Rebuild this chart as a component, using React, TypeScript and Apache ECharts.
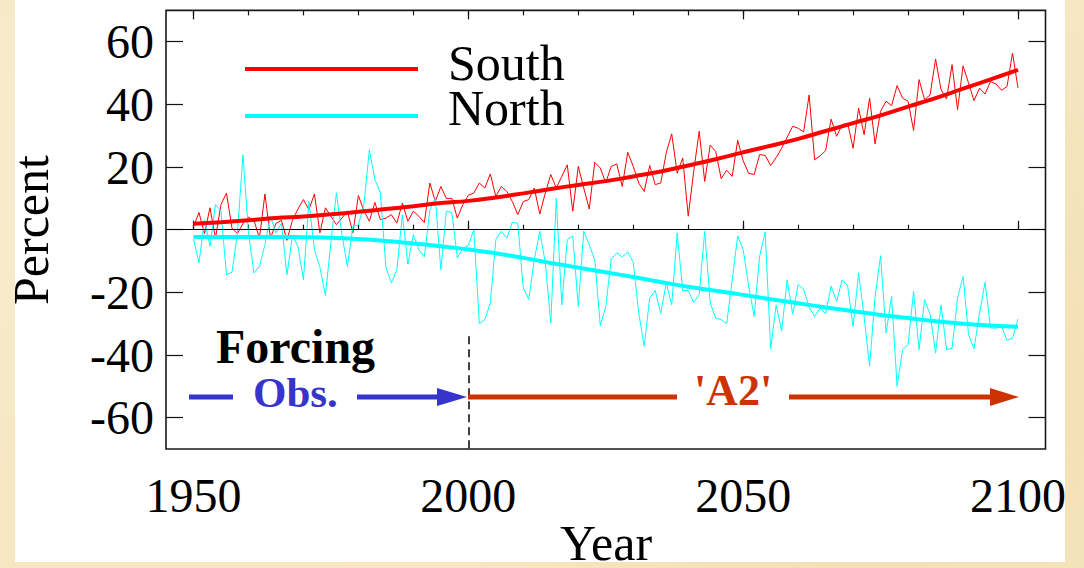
import React, { useEffect, useRef } from "react";
import * as echarts from "echarts";

const START_YEAR = 1950;

// South (annual, 1950-2100)
const southValues = [
  1, 5.5, -1.3, 7, -2.7, 8, 11.7, 0.5, -1.3, 2, 4, 3, -2.7, 11.4, -2.7, 2, 3, -3.4, 3, 6.6, 9.6, 6.4, 11.4, -1, 7,
  4.3, 1.6, 3.7, 5.9, -1, 10.9, 6, 2.7, 8.7, 3.2, 3.7, 4.8, 2.1, 8.5, 2.7, 5.9, 4.3, 2.3, 14.9, 9, 13.8, 10, 10, 3.7, 8,
  11, 11.7, 14.9, 13.3, 17.8, 10.6, 13.8, 12.2, 9, 4.8, 9, 9.6, 13.3, 5, 11.7, 17.6, 13.3, 17, 20.7, 5.9, 20.2, 13.3, 6.6, 21.5, 19.7,
  15, 20.2, 21, 13.8, 24.7, 20.2, 14.9, 12.2, 20.5, 14.4, 14.9, 24.5, 30.6, 18, 22.9, 4.3, 18.6, 31.4, 15.4, 27, 25, 16.3, 19, 17, 28.5,
  22, 18, 17.6, 24, 23.7, 20.5, 23, 26, 29.5, 33, 32.4, 31.2, 43, 22.3, 23.6, 25.2, 35.3, 29.8, 33.5, 34, 26, 38.8, 30.3, 42, 27.4,
  37.8, 41, 39.6, 46, 42, 41, 31.7, 47.9, 41.5, 43, 54.5, 44.7, 41.7, 52.7, 38.3, 52.3, 46.8, 41.2, 45.2, 43.3, 47.3, 46.5, 44.5, 45.7, 56.4,
  45.2,
];

// North (annual, 1950-2100)
const northValues = [
  -3, -10.6, 3, -5.3, 8, 6, -14.4, -13.6, -1, 23.9, -1, -13.8, -11.7, -4.8, 4.3, -1, 2, -14.4, -2, -5.3, -16, 9, -6.4, -12, -21,
  -4, 11.7, -1.6, -11.7, 1, 1.5, 8, 25.5, 16, 11.7, -12, -17, -12.8, 4.8, -11, -1.6, -6.4, -8.7, 6.4, 10, -12.8, 5.9, 5.5, -9, -6,
  -5, 0, -30, -28.7, -23.4, -3.2, -0.5, -2.7, 2.4, 2, -18.6, -22.3, -9.6, -0.5, -10.6, -29.8, 10, -24, -3.2, -2, -24.5, -0.5, -4.8, -9.6, -30.6,
  -24.5, -9.4, -7.4, -8.7, -7.1, -10.4, -26.6, -37.2, -21.8, -19.4, -26.8, -17, -24, -1, -19.4, -19.4, -23.2, -20.7, -0.5, -23.4, -28.2, -28.7, -30, -16, -2,
  -6.4, -18, -27.7, -8.5, -0.7, -38, -24, -32.4, -16, -27, -17.5, -19, -24.7, -27.7, -25, -26.8, -18, -22.9, -16, -17.9, -30.9, -13.8, -27.7, -43.6, -21.3,
  -8.3, -33, -21.3, -50, -38.3, -36.7, -19.7, -38.3, -22.3, -27, -39.4, -24, -38.3, -37.8, -21.8, -14.9, -33.5, -38, -26.6, -16.8, -31.4, -31.4, -30.9, -35.3, -34.6,
  -28.5,
];

// Smoothed trends (every 5 years)
const trendYears = [
  1950, 1955, 1960, 1965, 1970, 1975, 1980, 1985, 1990, 1995, 2000, 2005, 2010, 2015, 2020, 2025,
  2030, 2035, 2040, 2045, 2050, 2055, 2060, 2065, 2070, 2075, 2080, 2085, 2090, 2095, 2100,
];
const southTrend = [
  1.9, 2.4, 3.0, 3.7, 4.2, 4.9, 5.7, 6.6, 7.5, 8.5, 9.2, 10.3, 11.6, 13.0, 14.3, 15.5,
  17.0, 18.6, 20.5, 22.5, 24.7, 26.8, 29.0, 31.5, 34.0, 36.5, 39.3, 42.0, 45.0, 48.0, 51.0,
];
const northTrend = [
  -2.3, -2.3, -2.3, -2.3, -2.4, -2.6, -3.0, -3.6, -4.4, -5.3, -6.3, -7.5, -9.0, -10.6, -12.1, -13.6,
  -15.1, -16.7, -18.2, -19.5, -20.8, -22.2, -23.5, -24.8, -26.0, -27.2, -28.2, -29.2, -30.0, -30.6, -31.0,
];

const yTickValues = [-60, -40, -20, 0, 20, 40, 60];
const xLabelValues = [1950, 2000, 2050, 2100];
const xMinorTickValues = [1950, 1960, 1970, 1980, 1990, 2000, 2010, 2020, 2030, 2040, 2050, 2060, 2070, 2080, 2090, 2100];

const FONT = '"Liberation Serif", "Times New Roman", Times, serif';
const BLUE = "#3535cc";
const ORANGE = "#cc3300";

function textEl(text: string, x: number, y: number, opts: any = {}) {
  const size = opts.size || 48;
  const weight = opts.bold ? "bold" : "normal";
  return {
    type: "text",
    x,
    y,
    rotation: opts.rotation || 0,
    z: 50,
    silent: true,
    style: {
      text,
      x: 0,
      y: 0,
      fill: opts.color || "#000",
      font: `${weight} ${size}px ${FONT}`,
      fontSize: size,
      fontWeight: weight,
      fontFamily: FONT,
      lineHeight: opts.lineHeight || size,
      align: opts.align || "left",
      textAlign: opts.align || "left",
      verticalAlign: "middle",
      textVerticalAlign: "middle",
    },
  };
}

export default function App() {
  const ref = useRef<HTMLDivElement>(null);

  useEffect(() => {
    document.body.style.margin = "0";
    if (!ref.current) return;
    const chart = echarts.init(ref.current, null, { renderer: "svg" });

    const xBase = {
      type: "value",
      min: 1945,
      max: 2105,
      gridIndex: 0,
      axisLine: { show: false },
      splitLine: { show: false },
    };
    const yBase = {
      type: "value",
      min: -70,
      max: 70,
      gridIndex: 0,
      axisLine: { show: false },
      splitLine: { show: false },
    };
    const tickStyle = { color: "#111", width: 1.2 };

    const option: any = {
      animation: false,
      backgroundColor: "transparent",
      grid: {
        left: 166,
        right: 38.5,
        top: 10.4,
        bottom: 119,
        show: true,
        backgroundColor: "#ffffff",
        borderColor: "#1a1a1a",
        borderWidth: 1.6,
      },
      xAxis: [
        {
          ...xBase,
          position: "bottom",
          axisTick: { show: true, inside: true, length: 5, customValues: xMinorTickValues, lineStyle: tickStyle },
          axisLabel: {
            show: true,
            customValues: xLabelValues,
            formatter: (v: number) => String(v),
            margin: 22,
            fontSize: 48,
            fontFamily: FONT,
            color: "#000",
          },
        },
        {
          ...xBase,
          position: "bottom",
          axisTick: { show: true, inside: true, length: 9, customValues: xLabelValues, lineStyle: tickStyle },
          axisLabel: { show: false },
        },
        {
          ...xBase,
          position: "top",
          axisTick: { show: true, inside: true, length: 5, customValues: xMinorTickValues, lineStyle: tickStyle },
          axisLabel: { show: false },
        },
        {
          ...xBase,
          position: "top",
          axisTick: { show: true, inside: true, length: 9, customValues: xLabelValues, lineStyle: tickStyle },
          axisLabel: { show: false },
        },
      ],
      yAxis: [
        {
          ...yBase,
          position: "left",
          axisTick: { show: true, inside: true, length: 17, customValues: yTickValues, lineStyle: tickStyle },
          axisLabel: {
            show: true,
            customValues: yTickValues,
            formatter: (v: number) => String(v),
            margin: 12,
            fontSize: 48,
            fontFamily: FONT,
            color: "#000",
          },
        },
        {
          ...yBase,
          position: "right",
          axisTick: { show: true, inside: true, length: 17, customValues: yTickValues, lineStyle: tickStyle },
          axisLabel: { show: false },
        },
      ],
      series: [
        {
          name: "South",
          type: "line",
          xAxisIndex: 0,
          yAxisIndex: 0,
          data: southValues.map((v, i) => [START_YEAR + i, v]),
          symbol: "none",
          lineStyle: { color: "#ff0000", width: 1 },
          z: 3,
          markLine: {
            silent: true,
            symbol: ["none", "none"],
            label: { show: false },
            animation: false,
            data: [
              { yAxis: 0, lineStyle: { color: "#000", width: 1.2, type: "solid" } },
              [
                { coord: [2000, -34], lineStyle: { color: "#000", width: 1.5, type: [8, 5] } },
                { coord: [2000, -70] },
              ],
            ],
          },
        },
        {
          name: "North",
          type: "line",
          xAxisIndex: 0,
          yAxisIndex: 0,
          data: northValues.map((v, i) => [START_YEAR + i, v]),
          symbol: "none",
          lineStyle: { color: "#00ffff", width: 1 },
          z: 3,
        },
        {
          name: "South trend",
          type: "line",
          xAxisIndex: 0,
          yAxisIndex: 0,
          data: trendYears.map((y, i) => [y, southTrend[i]]),
          symbol: "none",
          smooth: true,
          lineStyle: { color: "#ff0000", width: 4 },
          z: 4,
        },
        {
          name: "North trend",
          type: "line",
          xAxisIndex: 0,
          yAxisIndex: 0,
          data: trendYears.map((y, i) => [y, northTrend[i]]),
          symbol: "none",
          smooth: true,
          lineStyle: { color: "#00ffff", width: 4 },
          z: 4,
        },
      ],
      graphic: {
        elements: [
          {
            type: "rect",
            z: -100,
            silent: true,
            shape: { x: 15, y: 0, width: 1050, height: 562 },
            style: { fill: "#ffffff" },
          },
          // legend
          { type: "line", z: 50, silent: true, shape: { x1: 245, y1: 69, x2: 418, y2: 69 }, style: { stroke: "#ff0000", lineWidth: 4 } },
          { type: "line", z: 50, silent: true, shape: { x1: 245, y1: 116, x2: 418, y2: 116 }, style: { stroke: "#00ffff", lineWidth: 4 } },
          textEl("South", 448, 63, { size: 50, lineHeight: 40 }),
          textEl("North", 448, 108, { size: 50, lineHeight: 40 }),
          // axis titles
          textEl("Percent", 31, 230, { size: 50, align: "center", rotation: Math.PI / 2 }),
          textEl("Year", 606, 543, { size: 50, align: "center", lineHeight: 40 }),
          // forcing annotation
          textEl("Forcing", 216, 346, { size: 48, bold: true }),
          textEl("Obs.", 253, 392, { size: 43, bold: true, color: BLUE }),
          { type: "line", z: 50, silent: true, shape: { x1: 189, y1: 397, x2: 233, y2: 397 }, style: { stroke: BLUE, lineWidth: 5 } },
          { type: "line", z: 50, silent: true, shape: { x1: 357, y1: 397, x2: 440, y2: 397 }, style: { stroke: BLUE, lineWidth: 5 } },
          { type: "polygon", z: 50, silent: true, shape: { points: [[437, 388], [467, 397], [437, 406]] }, style: { fill: BLUE } },
          { type: "line", z: 50, silent: true, shape: { x1: 468, y1: 397, x2: 677, y2: 397 }, style: { stroke: ORANGE, lineWidth: 5 } },
          textEl("'A2'", 733, 390, { size: 44, bold: true, color: ORANGE, align: "center" }),
          { type: "line", z: 50, silent: true, shape: { x1: 789, y1: 397, x2: 993, y2: 397 }, style: { stroke: ORANGE, lineWidth: 5 } },
          { type: "polygon", z: 50, silent: true, shape: { points: [[990, 388], [1019, 397], [990, 406]] }, style: { fill: ORANGE } },
        ],
      },
    };

    chart.setOption(option);
    return () => chart.dispose();
  }, []);

  return (
    <div
      style={{
        width: 1084,
        height: 568,
        position: "relative",
        overflow: "hidden",
        background:
          "radial-gradient(circle at 20% 30%, #fbf0d8 0%, rgba(251,240,216,0) 40%), radial-gradient(circle at 80% 70%, #f1dcae 0%, rgba(241,220,174,0) 45%), radial-gradient(circle at 50% 95%, #f8e6c0 0%, rgba(248,230,192,0) 50%), #f6e6c2",
      }}
    >
      <div ref={ref} style={{ width: 1084, height: 568 }} />
    </div>
  );
}
